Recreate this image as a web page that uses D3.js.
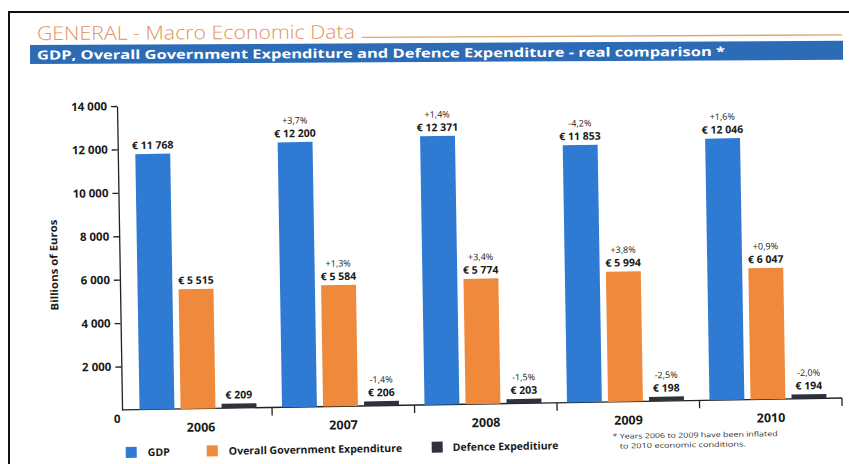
<!DOCTYPE html>
<html>
<head>
<meta charset="utf-8">
<script src="https://cdn.jsdelivr.net/npm/d3@7"></script>
<style>
  html, body { margin: 0; padding: 0; background: #ffffff; }
  svg { display: block; }
  text { font-family: "Open Sans", "Noto Sans", sans-serif; }
</style>
</head>
<body>
<svg id="chart" width="849" height="464"></svg>
<script>
// ---------- DATA ----------
const years = ["2006", "2007", "2008", "2009", "2010"];
const seriesNames = ["GDP", "Overall Government Expenditure", "Defence Expeditiure"];
const gdp = [11768, 12200, 12371, 11853, 12046];
const govExp = [5515, 5584, 5774, 5994, 6047];
const defExp = [209, 206, 203, 198, 194];
const gdpChange = ["", "+3,7%", "+1,4%", "-4,2%", "+1,6%"];
const govChange = ["", "+1,3%", "+3,4%", "+3,8%", "+0,9%"];
const defChange = ["", "-1,4%", "-1,5%", "-2,5%", "-2,0%"];
const yTicks = [0, 2000, 4000, 6000, 8000, 10000, 12000, 14000];
const yTickLabels = ["0", "2 000", "4 000", "6 000", "8 000", "10 000", "12 000", "14 000"];
const titleText = "GENERAL - Macro Economic Data";
const subtitleText = "GDP, Overall Government Expenditure and Defence Expenditure - real comparison *";
const footnoteLines = ["* Years 2006 to 2009 have been inflated", "to 2010 economic conditions."];

const seriesValues = [gdp, govExp, defExp];
const seriesChanges = [gdpChange, govChange, defChange];
const colors = ["#2f7bd3", "#ef8a3c", "#2d323b"];

// ---------- SETUP ----------
const svg = d3.select("#chart");

// page frame
svg.append("path")
  .attr("d", "M9,464 L9,12 L849,12")
  .attr("fill", "none").attr("stroke", "#111").attr("stroke-width", 2);

// header (slight scan tilt)
const header = svg.append("g").attr("transform", "rotate(-0.3, 430, 45)");
header.append("text")
  .attr("x", 37).attr("y", 38)
  .attr("font-size", 19).attr("font-weight", 300)
  .attr("fill", "#e2925c")
  .attr("textLength", 318).attr("lengthAdjust", "spacingAndGlyphs")
  .text(titleText);
header.append("line")
  .attr("x1", 362).attr("x2", 842).attr("y1", 37).attr("y2", 37)
  .attr("stroke", "#d8a874").attr("stroke-width", 1.3);
header.append("rect")
  .attr("x", 30).attr("y", 43).attr("width", 813).attr("height", 19)
  .attr("fill", "#2c6bb5");
header.append("text")
  .attr("x", 37).attr("y", 57.5)
  .attr("font-size", 12.5).attr("font-weight", 700)
  .attr("fill", "#ffffff")
  .attr("textLength", 688).attr("lengthAdjust", "spacingAndGlyphs")
  .text(subtitleText);

// chart body (scan tilt)
const g = svg.append("g").attr("transform", "rotate(-0.95, 480, 404)");

const y = d3.scaleLinear().domain([0, 14000]).range([404, 100]);
const x0 = d3.scaleBand().domain(years).range([129.5, 842]).paddingInner(0).paddingOuter(0);
const x1 = d3.scaleBand().domain(d3.range(3)).range([10, 127]).paddingInner(0.15);

const axisX = 122;

// y axis
const yAxis = d3.axisLeft(y)
  .tickValues(yTicks.slice(1))
  .tickFormat((d) => yTickLabels[yTicks.indexOf(d)])
  .tickSize(6).tickSizeOuter(0).tickPadding(4);
const ya = g.append("g").attr("transform", `translate(${axisX},0)`).call(yAxis);
ya.select(".domain").attr("stroke", "#222").attr("stroke-width", 1.3);
ya.selectAll(".tick line").attr("stroke", "#222").attr("stroke-width", 1.3);
ya.selectAll(".tick text")
  .attr("font-family", "'Open Sans', sans-serif")
  .attr("font-size", 11.5).attr("font-weight", 700).attr("fill", "#1a1a1a");
// zero label (sits below the origin)
g.append("text")
  .attr("x", axisX - 5).attr("y", y(0) + 13)
  .attr("text-anchor", "middle")
  .attr("font-size", 11.5).attr("font-weight", 700).attr("fill", "#1a1a1a")
  .text(yTickLabels[0]);

// y axis title
g.append("text")
  .attr("transform", `translate(60,${(y(0) + y(14000)) / 2 + 6}) rotate(-90)`)
  .attr("text-anchor", "middle")
  .attr("font-size", 10.5).attr("font-weight", 700).attr("fill", "#1a1a1a")
  .attr("textLength", 91).attr("lengthAdjust", "spacingAndGlyphs")
  .text("Billions of Euros");

// baseline + boundary ticks
g.append("line")
  .attr("x1", axisX).attr("x2", x0.range()[1])
  .attr("y1", y(0)).attr("y2", y(0))
  .attr("stroke", "#222").attr("stroke-width", 1.3);
g.selectAll("line.bt")
  .data(years)
  .enter().append("line").attr("class", "bt")
  .attr("x1", (d) => x0(d) + x0.bandwidth()).attr("x2", (d) => x0(d) + x0.bandwidth())
  .attr("y1", y(0)).attr("y2", y(0) + 8)
  .attr("stroke", "#222").attr("stroke-width", 1.3);

// category labels
g.selectAll("text.cat")
  .data(years)
  .enter().append("text").attr("class", "cat")
  .attr("x", (d) => x0(d) + x0.bandwidth() / 2)
  .attr("y", y(0) + 23)
  .attr("text-anchor", "middle")
  .attr("font-size", 12.5).attr("font-weight", 700).attr("fill", "#1a1a1a")
  .text((d) => d);

// bars
const fmt = (v) => "€ " + d3.format(",")(v).replace(/,/g, " ");
const groups = g.selectAll("g.year")
  .data(years)
  .enter().append("g").attr("class", "year")
  .attr("transform", (d) => `translate(${x0(d)},0)`);

seriesValues.forEach((vals, s) => {
  groups.append("rect")
    .attr("x", x1(s))
    .attr("width", x1.bandwidth())
    .attr("y", (d, i) => y(vals[i]))
    .attr("height", (d, i) => y(0) - y(vals[i]))
    .attr("fill", colors[s]);
  groups.append("text")
    .attr("x", x1(s) + x1.bandwidth() / 2)
    .attr("y", (d, i) => y(vals[i]) - 5)
    .attr("text-anchor", "middle")
    .attr("font-size", 10.5).attr("font-weight", 700).attr("fill", "#1a1a1a")
    .text((d, i) => fmt(vals[i]));
  groups.append("text")
    .attr("x", x1(s) + x1.bandwidth() / 2)
    .attr("y", (d, i) => y(vals[i]) - 18.5)
    .attr("text-anchor", "middle")
    .attr("font-size", 9).attr("font-weight", 400).attr("fill", "#222")
    .text((d, i) => seriesChanges[s][i]);
});

// legend
const legendX = [125, 206, 431];
const legend = g.selectAll("g.leg")
  .data(seriesNames)
  .enter().append("g").attr("class", "leg")
  .attr("transform", (d, i) => `translate(${legendX[i]},441)`);
legend.append("rect")
  .attr("width", 11).attr("height", 11)
  .attr("fill", (d, i) => colors[i]);
legend.append("text")
  .attr("x", (d, i) => [22, 22, 21][i])
  .attr("y", 9.5)
  .attr("font-size", 10.5).attr("font-weight", 700).attr("fill", "#1a1a1a")
  .text((d) => d);

// footnote
const fnLengths = [165, 126];
g.selectAll("text.fn")
  .data(footnoteLines)
  .enter().append("text").attr("class", "fn")
  .attr("x", (d, i) => i === 0 ? 612 : 619)
  .attr("y", (d, i) => 441 + i * 9.8)
  .attr("font-size", 7).attr("fill", "#333")
  .attr("textLength", (d, i) => fnLengths[i]).attr("lengthAdjust", "spacingAndGlyphs")
  .text((d) => d);
</script>
</body>
</html>
